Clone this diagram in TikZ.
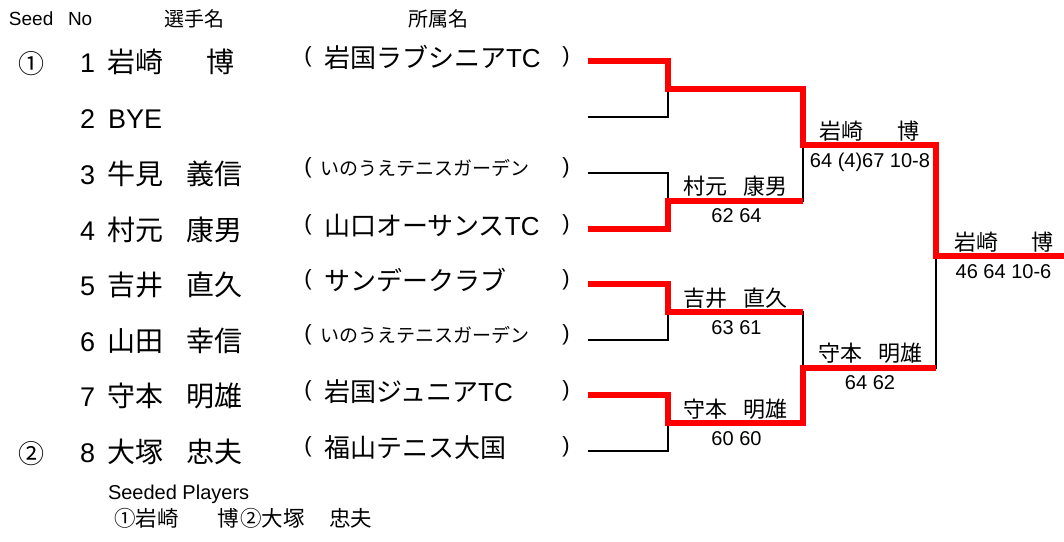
\documentclass[tikz,border=0pt]{standalone}
\usepackage{fontspec}
\setmainfont{Liberation Sans}
\newfontfamily\jp{Noto Sans CJK JP}
\begin{document}
\begin{tikzpicture}[x=1pt,y=-1pt,
  every node/.style={inner sep=0pt, outer sep=0pt},
  hdr/.style={font=\fontsize{19}{19}\selectfont, anchor=base west},
  hdrjp/.style={font=\jp\fontsize{20}{20}\selectfont, anchor=base west},
  seedmark/.style={font=\jp\fontsize{26}{26}\selectfont, anchor=base},
  num/.style={font=\fontsize{27}{27}\selectfont, anchor=base west},
  pname/.style={font=\jp\fontsize{28}{28}\selectfont, anchor=base west},
  club/.style={font=\fontsize{26}{26}\selectfont, anchor=base west},
  clubsm/.style={font=\jp\fontsize{19}{19}\selectfont, anchor=base west},
  paren/.style={font=\fontsize{22}{22}\selectfont, anchor=center},
  wname/.style={font=\jp\fontsize{22}{22}\selectfont, anchor=base},
  score/.style={font=\fontsize{20}{20}\selectfont, anchor=base},
  footlat/.style={font=\fontsize{20}{20}\selectfont, anchor=base west},
  footjp/.style={font=\jp\fontsize{21.5}{21.5}\selectfont, anchor=base west},
  lose/.style={black, line width=2pt},
  win/.style={red, line width=6pt, line join=miter},
]
\useasboundingbox (0,0) rectangle (1064,541);
\fill[white] (0,0) rectangle (1064,541);

% header
\node[hdr] (hseed) at (9,25) {Seed};
\node[hdr] (hno) at (68,25) {No};
\node[hdrjp] (hname) at (164,26) {選手名};
\node[hdrjp] (hclub) at (408,26) {所属名};

% row 1
\node[seedmark] (s1) at (31.5,73.5) {①};
\node[num] (n1) at (80,72.5) {1};
\node[pname] (f1) at (107,72.5) {岩崎};
\node[pname] (g1) at (206,72.5) {博};
\node[paren] (lp1) at (308,57) {(};
\node[club] (c1) at (324,67.4) {{\jp 岩国ラブシニア}TC};
\node[paren] (rp1) at (566,57) {)};
% row 2
\node[num] (n2) at (80,128.5) {2};
\node[num] (f2) at (108,128.5) {BYE};
% row 3
\node[num] (n3) at (80,184.5) {3};
\node[pname] (f3) at (107,184.5) {牛見};
\node[pname] (g3) at (186,184.5) {義信};
\node[paren] (lp3) at (308,168) {(};
\node[clubsm] (c3) at (320,175.5) {いのうえテニスガーデン};
\node[paren] (rp3) at (566,168) {)};
% row 4
\node[num] (n4) at (80,240.5) {4};
\node[pname] (f4) at (107,240.5) {村元};
\node[pname] (g4) at (186,240.5) {康男};
\node[paren] (lp4) at (308,225) {(};
\node[club] (c4) at (324,235.4) {{\jp 山口オーサンス}TC};
\node[paren] (rp4) at (566,225) {)};
% row 5
\node[num] (n5) at (80,295.5) {5};
\node[pname] (f5) at (107,295.5) {吉井};
\node[pname] (g5) at (186,295.5) {直久};
\node[paren] (lp5) at (308,280) {(};
\node[club] (c5) at (324,290.4) {{\jp サンデークラブ}};
\node[paren] (rp5) at (566,280) {)};
% row 6
\node[num] (n6) at (80,351.5) {6};
\node[pname] (f6) at (107,351.5) {山田};
\node[pname] (g6) at (186,351.5) {幸信};
\node[paren] (lp6) at (308,335) {(};
\node[clubsm] (c6) at (320,342.5) {いのうえテニスガーデン};
\node[paren] (rp6) at (566,335) {)};
% row 7
\node[num] (n7) at (80,406.5) {7};
\node[pname] (f7) at (107,406.5) {守本};
\node[pname] (g7) at (186,406.5) {明雄};
\node[paren] (lp7) at (308,391) {(};
\node[club] (c7) at (324,401.4) {{\jp 岩国ジュニア}TC};
\node[paren] (rp7) at (566,391) {)};
% row 8
\node[seedmark] (s8) at (31.5,463.5) {②};
\node[num] (n8) at (80,462.5) {8};
\node[pname] (f8) at (107,462.5) {大塚};
\node[pname] (g8) at (186,462.5) {忠夫};
\node[paren] (lp8) at (308,447) {(};
\node[club] (c8) at (324,457.4) {{\jp 福山テニス大国}};
\node[paren] (rp8) at (566,447) {)};

% footer
\node[footlat] (sp) at (108,499) {Seeded Players};
\node[footjp] (sp1) at (114,526.5) {①岩崎};
\node[footjp] (sp2) at (217,526.5) {博};
\node[footjp] (sp3) at (240,526.5) {②大塚};
\node[footjp] (sp4) at (329,526.5) {忠夫};

% bracket coordinates
\foreach \i/\y in {1/61,2/117,3/173,4/229,5/284,6/340,7/395,8/451}{
  \coordinate (a\i) at (588,\y);
  \coordinate (b\i) at (668,\y);
}
\coordinate (m1) at (668,89);
\coordinate (m2) at (668,201);
\coordinate (m3) at (668,312);
\coordinate (m4) at (668,423);
\coordinate (q1) at (803,89);
\coordinate (q2) at (803,201);
\coordinate (q3) at (803,312);
\coordinate (q4) at (803,423);
\coordinate (r1) at (803,145);
\coordinate (r2) at (803,367.5);
\coordinate (t1) at (936,145);
\coordinate (t2) at (936,367.5);
\coordinate (fm) at (936,256);
\coordinate (fe) at (1064,256);

% black brackets
\draw[lose] (a1) -- (b1) -- (b2) -- (a2);
\draw[lose] (a3) -- (b3) -- (b4) -- (a4);
\draw[lose] (a5) -- (b5) -- (b6) -- (a6);
\draw[lose] (a7) -- (b7) -- (b8) -- (a8);
\draw[lose] (m1) -- (q1) -- (q2) -- (m2);
\draw[lose] (m3) -- (q3) -- (q4) -- (m4);
\draw[lose] (r1) -- (t1) -- (t2) -- (r2);
\draw[lose] (fm) -- (fe);

% winners
\draw[win] (a1) -- (b1) -- (m1) -- (q1) -- (r1) -- (t1) -- (fm) -- (fe);
\draw[win] (a4) -- (b4) -- (m2) -- (q2);
\draw[win] (a5) -- (b5) -- (m3) -- (q3);
\draw[win] (a7) -- (b7) -- (m4) -- (q4) -- (r2) -- (t2);

% winner labels
\node[wname] (w2) at (735,194.5) {村元\hspace{16pt}康男};
\node[score] (sc2) at (736.5,222.5) {62 64};
\node[wname] (w3) at (735,306.5) {吉井\hspace{16pt}直久};
\node[score] (sc3) at (736.5,334.5) {63 61};
\node[wname] (w4) at (735,417.5) {守本\hspace{16pt}明雄};
\node[score] (sc4) at (736.5,445.5) {60 60};
\node[wname] (w5) at (869.5,139.5) {岩崎\hspace{34pt}博};
\node[score] (sc5) at (870,167.5) {64 (4)67 10-8};
\node[wname] (w6) at (870,361.5) {守本\hspace{16pt}明雄};
\node[score] (sc6) at (870,389.5) {64 62};
\node[wname] (w7) at (1003.5,250.5) {岩崎\hspace{33pt}博};
\node[score] (sc7) at (1003.5,278.5) {46 64 10-6};
\end{tikzpicture}
\end{document}
